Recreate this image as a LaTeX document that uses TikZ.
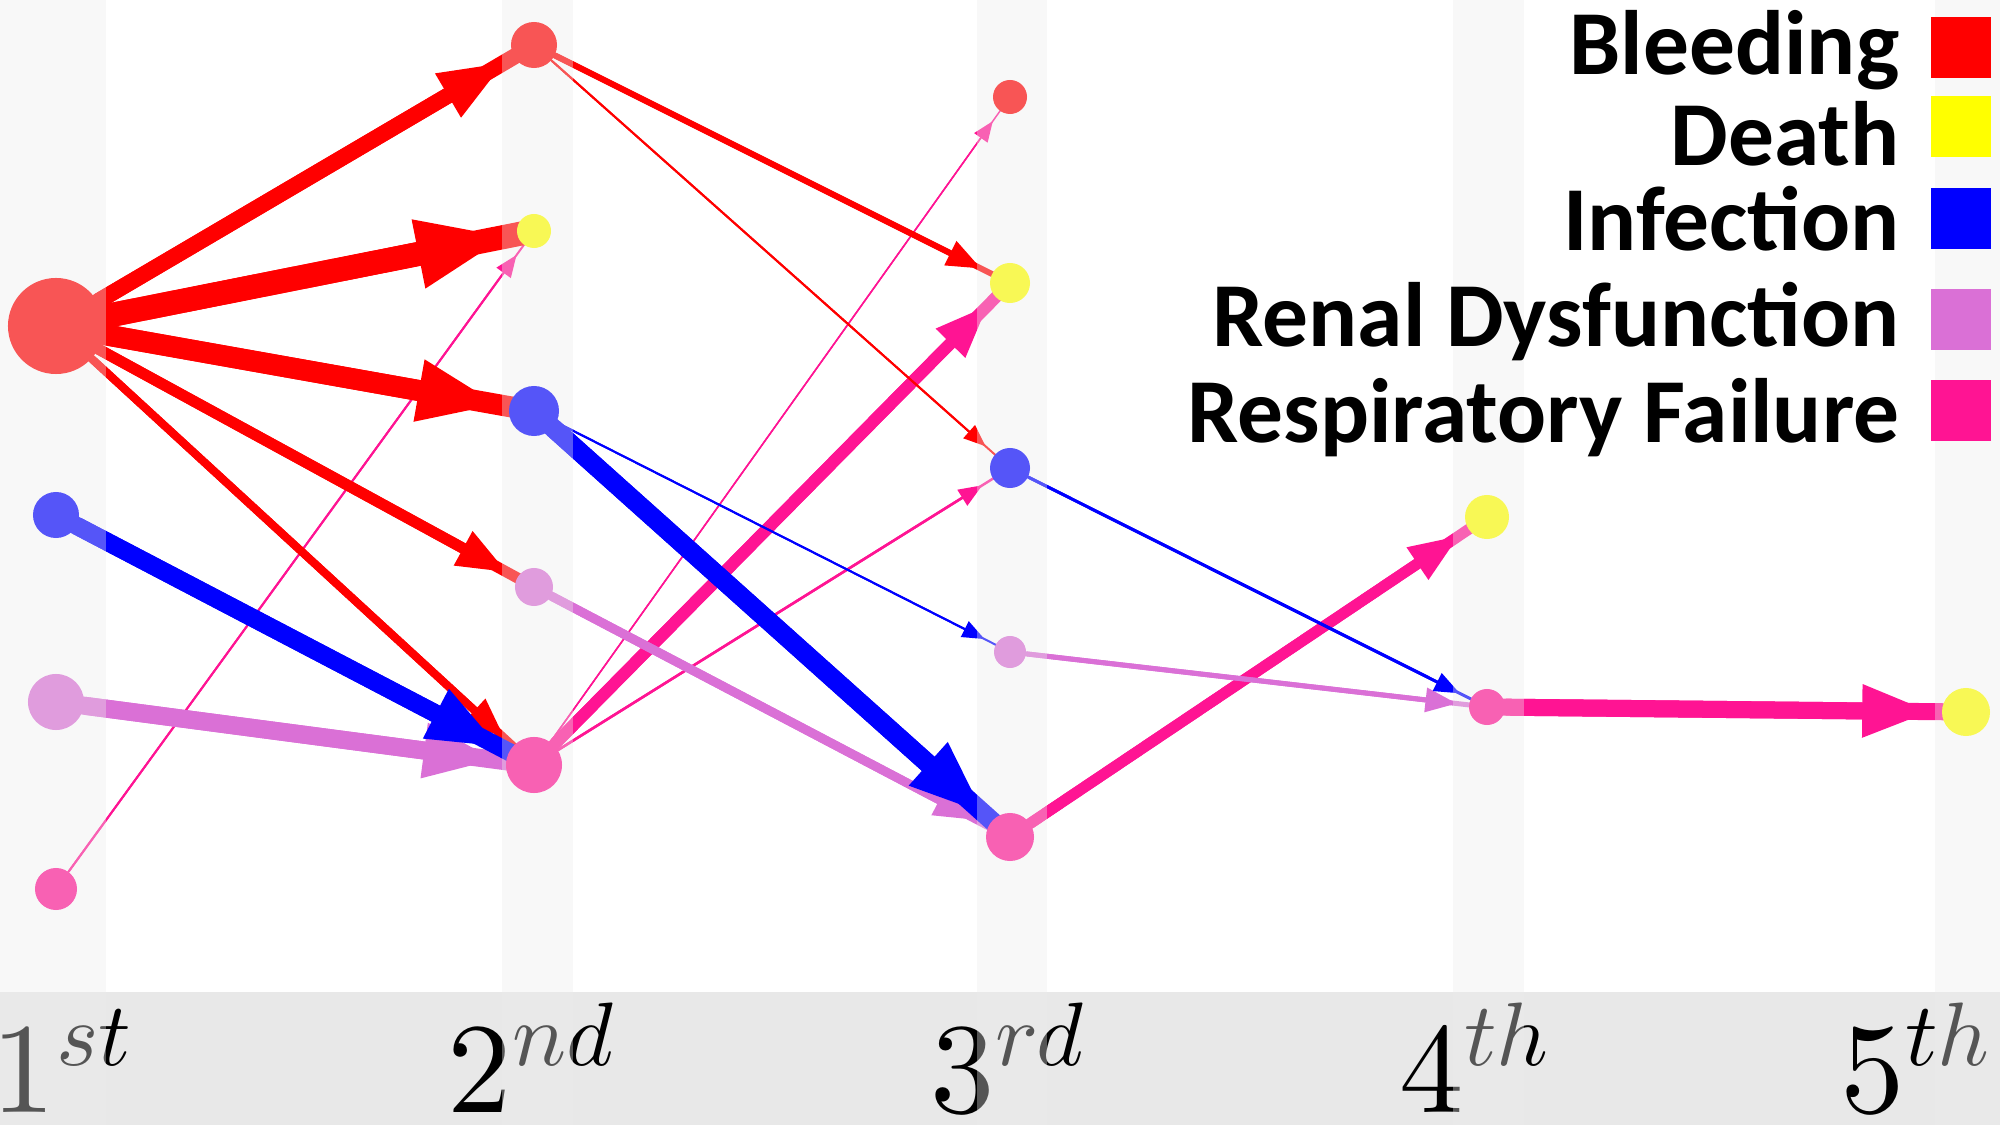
\documentclass[tikz,border=0pt]{standalone}
\usepackage{fontspec}
\usepackage{unicode-math}
\newfontfamily\legendfont{Carlito}
\usetikzlibrary{arrows.meta,backgrounds}
\definecolor{bleed}{RGB}{255,0,0}
\definecolor{death}{RGB}{255,255,0}
\definecolor{infect}{RGB}{0,0,255}
\definecolor{renal}{RGB}{218,112,214}
\definecolor{resp}{RGB}{255,20,147}
\definecolor{band}{RGB}{236,236,236}
\definecolor{bar}{RGB}{232,232,232}

\begin{document}
\begin{tikzpicture}[x=0.01cm,y=-0.01cm,
  dot/.style={circle,inner sep=0pt,minimum size=#1},
  tip/.style={-{Triangle[length=0.16cm 3.0,width=0.13cm 2.4,line width=0pt]},shorten >=0.12cm},
  key/.style={minimum width=0.6cm,minimum height=0.61cm,inner sep=0pt,anchor=north west},
  lab/.style={font=\legendfont\bfseries\fontsize{26}{30}\selectfont,anchor=base east,inner sep=0pt},
  ord/.style={font=\fontsize{36.6}{40}\selectfont,anchor=base west,inner sep=0pt}]
  \useasboundingbox (0,0) rectangle (2000,1125);

  % 1st step
  \node[dot=0.96cm,fill=bleed]  (b1) at (56,326) {};
  \node[dot=0.46cm,fill=infect] (i1) at (56,515) {};
  \node[dot=0.56cm,fill=renal]  (r1) at (56,702) {};
  \node[dot=0.42cm,fill=resp]   (p1) at (56,889) {};
  % 2nd step
  \node[dot=0.46cm,fill=bleed]  (b2) at (534,45) {};
  \node[dot=0.34cm,fill=death]  (d2) at (534,231) {};
  \node[dot=0.50cm,fill=infect] (i2) at (534,411) {};
  \node[dot=0.38cm,fill=renal]  (r2) at (534,587) {};
  \node[dot=0.56cm,fill=resp]   (p2) at (534,765) {};
  % 3rd step
  \node[dot=0.34cm,fill=bleed]  (b3) at (1010,97) {};
  \node[dot=0.40cm,fill=death]  (d3) at (1010,283) {};
  \node[dot=0.40cm,fill=infect] (i3) at (1010,468) {};
  \node[dot=0.32cm,fill=renal]  (r3) at (1010,652) {};
  \node[dot=0.48cm,fill=resp]   (p3) at (1010,837) {};
  % 4th and 5th step
  \node[dot=0.44cm,fill=death]  (d4) at (1487,517) {};
  \node[dot=0.36cm,fill=resp]   (p4) at (1487,707) {};
  \node[dot=0.48cm,fill=death]  (d5) at (1966,712) {};

  \begin{pgfonlayer}{background}
    \fill[bar] (0,992) rectangle (2000,1125);
    % respiratory failure
    \draw[resp,line width=0.02cm]  (p1.center) -- (d2.center) (p1) edge[tip] (d2);
    \draw[resp,line width=0.015cm] (p2.center) -- (b3.center) (p2) edge[tip] (b3);
    \draw[resp,line width=0.12cm]  (p2.center) -- (d3.center) (p2) edge[tip] (d3);
    \draw[resp,line width=0.025cm] (p2.center) -- (i3.center) (p2) edge[tip] (i3);
    \draw[resp,line width=0.11cm]  (p3.center) -- (d4.center) (p3) edge[tip] (d4);
    \draw[resp,line width=0.17cm]  (p4.center) -- (d5.center) (p4) edge[tip] (d5);
    % renal dysfunction
    \draw[renal,line width=0.18cm] (r1.center) -- (p2.center) (r1) edge[tip] (p2);
    \draw[renal,line width=0.09cm] (r2.center) -- (p3.center) (r2) edge[tip] (p3);
    \draw[renal,line width=0.05cm] (r3.center) -- (p4.center) (r3) edge[tip] (p4);
    % bleeding
    \draw[bleed,line width=0.16cm]  (b1.center) -- (b2.center) (b1) edge[tip] (b2);
    \draw[bleed,line width=0.24cm]  (b1.center) -- (d2.center) (b1) edge[tip] (d2);
    \draw[bleed,line width=0.21cm]  (b1.center) -- (i2.center) (b1) edge[tip] (i2);
    \draw[bleed,line width=0.11cm]  (b1.center) -- (r2.center) (b1) edge[tip] (r2);
    \draw[bleed,line width=0.08cm]  (b1.center) -- (p2.center) (b1) edge[tip] (p2);
    \draw[bleed,line width=0.06cm]  (b2.center) -- (d3.center) (b2) edge[tip] (d3);
    \draw[bleed,line width=0.02cm]  (b2.center) -- (i3.center) (b2) edge[tip] (i3);
    % infection
    \draw[infect,line width=0.18cm] (i1.center) -- (p2.center) (i1) edge[tip] (p2);
    \draw[infect,line width=0.19cm] (i2.center) -- (p3.center) (i2) edge[tip] (p3);
    \draw[infect,line width=0.02cm] (i2.center) -- (r3.center) (i2) edge[tip] (r3);
    \draw[infect,line width=0.03cm] (i3.center) -- (p4.center) (i3) edge[tip] (p4);
  \end{pgfonlayer}

  % step labels
  \node[ord] (s1) at (-9,1112)   {$1^{st}$};
  \node[ord] (s2) at (447,1112)  {$2^{nd}$};
  \node[ord] (s3) at (930,1112)  {$3^{rd}$};
  \node[ord] (s4) at (1399,1112) {$4^{th}$};
  \node[ord] (s5) at (1840,1112) {$5^{th}$};

  % column bands over everything
  \fill[band,opacity=0.36] (0,0) rectangle (106,1125);
  \fill[band,opacity=0.36] (502,0) rectangle (573,1125);
  \fill[band,opacity=0.36] (977,0) rectangle (1047,1125);
  \fill[band,opacity=0.36] (1453,0) rectangle (1524,1125);
  \fill[band,opacity=0.36] (1935,0) rectangle (2000,1125);

  % legend
  \node[key,fill=bleed]  (kb) at (1930,16) {};
  \node[key,fill=death]  (kd) at (1930,95) {};
  \node[key,fill=infect] (ki) at (1930,187) {};
  \node[key,fill=renal]  (kr) at (1930,288) {};
  \node[key,fill=resp]   (kp) at (1930,379) {};
  \node[lab] (lb) at (1900,75)  {Bleeding};
  \node[lab] (ld) at (1900,166) {Death};
  \node[lab] (li) at (1900,251) {Infection};
  \node[lab] (lr) at (1900,347) {Renal Dysfunction};
  \node[lab] (lp) at (1900,443) {Respiratory Failure};
\end{tikzpicture}
\end{document}
